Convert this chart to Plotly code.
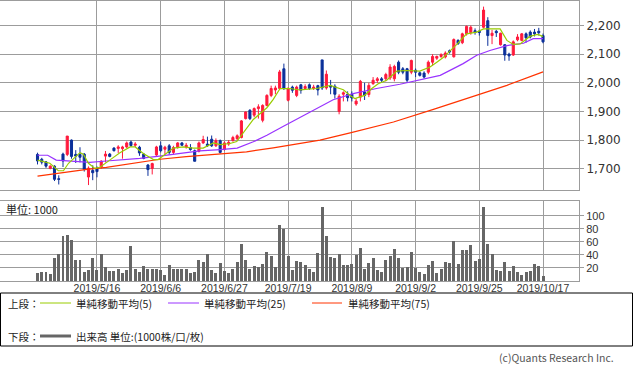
import plotly.graph_objects as go

W, H = 633, 372

# ---------------- data ----------------
idx = list(range(120))
opens = [1750,1733,1724,1701,1709,1665,1751,1750,1800,1750,
         1750,1751,1671,1694,1702,1706,1744,1751,1772,1771,
         1770,1776,1793,1782,1775,1751,1713,1701,1748,1780,
         1768,1780,1757,1774,1790,1776,1774,1763,1761,1790,
         1786,1803,1780,1798,1767,1786,1798,1805,1809,1875,
         1904,1887,1910,1869,1921,1956,1975,1980,2049,1939,
         1985,1956,1993,1980,1993,1980,1990,2080,1982,1990,
         1988,1900,1960,1960,1960,1926,1950,1968,1959,1997,
         2008,2014,2014,2017,2014,2072,2049,2049,2037,2044,
         2035,2034,2037,2072,2086,2092,2090,2112,2091,2148,
         2140,2171,2175,2182,2180,2194,2217,2165,2180,2133,
         2133,2100,2097,2150,2148,2171,2177,2177,2180,2165]
highs = [1756,1738,1727,1712,1712,1677,1756,1814,1802,1765,
         1775,1755,1708,1712,1708,1730,1762,1755,1775,1782,
         1780,1795,1798,1793,1780,1755,1716,1721,1780,1795,
         1780,1786,1780,1793,1793,1790,1786,1767,1795,1815,
         1812,1816,1806,1802,1795,1800,1815,1820,1870,1900,
         1908,1914,1925,1925,1960,1990,1990,2045,2067,1985,
         1990,1990,1996,1995,1998,1993,1993,2080,2043,2010,
         1995,1960,1970,1970,1970,1945,2010,2000,2000,2020,
         2020,2020,2035,2065,2063,2078,2055,2052,2081,2050,
         2040,2040,2078,2100,2095,2103,2110,2116,2155,2152,
         2175,2200,2200,2190,2185,2266,2229,2185,2185,2175,
         2135,2105,2148,2170,2174,2176,2183,2188,2192,2172]
lows = [1715,1715,1703,1698,1657,1645,1706,1744,1735,1720,
        1722,1690,1643,1660,1670,1700,1722,1740,1760,1755,
        1735,1772,1776,1776,1745,1733,1675,1680,1745,1757,
        1750,1749,1750,1770,1780,1770,1763,1726,1757,1787,
        1776,1776,1776,1753,1763,1780,1795,1800,1806,1872,
        1870,1880,1875,1862,1918,1950,1960,1975,1975,1935,
        1965,1950,1962,1975,1975,1975,1956,1975,1976,1960,
        1945,1890,1935,1935,1935,1920,1935,1940,1950,1993,
        2000,2003,2005,2010,2005,2030,2030,2000,2030,2020,
        2022,2015,2030,2060,2080,2087,2085,2102,2088,2132,
        2135,2165,2168,2168,2165,2190,2129,2135,2160,2130,
        2077,2077,2094,2145,2145,2140,2155,2162,2165,2138]
closes = [1727,1723,1709,1709,1663,1663,1727,1814,1743,1744,
          1740,1698,1702,1686,1690,1726,1751,1743,1763,1776,
          1776,1790,1781,1786,1755,1736,1697,1718,1776,1763,
          1775,1757,1774,1790,1782,1782,1767,1726,1790,1802,
          1780,1780,1798,1757,1790,1792,1809,1815,1867,1898,
          1875,1910,1916,1921,1956,1980,1982,2038,1980,1980,
          1974,1985,1974,1987,1980,1985,1975,1982,2030,1985,
          1960,1953,1965,1948,1947,1936,2005,1956,1991,2009,
          2014,2009,2029,2055,2057,2037,2037,2009,2078,2037,
          2026,2020,2072,2092,2092,2098,2104,2108,2151,2137,
          2171,2197,2194,2176,2176,2254,2165,2173,2175,2173,
          2097,2094,2143,2160,2171,2157,2160,2171,2175,2143]
volume = [13,14,14,11,35,41,69,71,63,32,
          32,14,17,36,17,41,22,16,16,19,
          13,17,54,19,14,23,19,19,19,17,
          9,24,19,19,19,19,13,14,32,29,
          41,17,13,28,16,13,19,29,57,32,
          19,23,22,26,45,38,22,86,80,38,
          17,31,29,25,19,14,43,114,69,37,
          35,42,25,25,26,40,51,18,28,35,
          17,14,32,38,49,35,20,22,45,20,
          14,11,25,31,12,18,29,28,62,26,
          48,48,55,31,34,114,57,42,17,15,
          29,15,23,14,9,14,15,26,23,8]

# moving averages (index, value)
ma5_x = [0,2.9,4.9,6.1,7.3,10,10.8,12,13.5,14.7,17,19.4,21.8,23,24.9,27.3,28.4,30.4,32,34.3,
         36.7,39,41.4,43,45.3,46.9,48.4,50.8,54,55.5,57.1,59.4,61.8,65.7,68.9,72,73.6,74.7,
         77,78.7,80.2,82.2,84.6,86.9,90,92.4,94,95.5,98.7,101,103.4,105,108.9,110.5,112,
         113.6,115.9,117.7,119]
ma5_y = [1730,1719,1693,1693,1719,1756,1751,1719,1701,1705,1730,1756,1776,1776,1753,1732,1732,1753,1772,1776,
         1772,1772,1790,1784,1788,1795,1825,1872,1913,1942,1980,1980,1975,1980,1991,1976,1956,1945,
         1956,1980,1997,2009,2041,2043,2041,2055,2072,2088,2134,2171,2177,2188,2188,2148,2134,
         2136,2162,2169,2162]
ma25_x = [0,2.4,4.4,7,12.3,16.2,21,24.1,28.7,33.5,38.2,43,47,50.8,54,57.9,61.8,64.9,69.6,74.3,
          79.8,85.3,89.3,94.8,100.2,103.4,106.5,110.5,114.4,116.7,119]
ma25_y = [1747,1747,1730,1727,1722,1727,1732,1736,1744,1753,1762,1767,1772,1794,1817,1848,1879,1904,1941,1962,
          1980,1995,2009,2026,2067,2096,2113,2130,2138,2154,2154]
ma75_x = [0,5.5,11.6,16.2,22.6,28.8,35,42.2,49.2,55.5,61.8,66.5,73.6,83.8,93.2,104.2,110.5,119]
ma75_y = [1674,1686,1698,1705,1719,1733,1742,1751,1759,1773,1788,1800,1825,1863,1907,1962,1991,2038]

date_idx = [14, 29, 44, 59, 74, 89, 104, 119]
date_txt = ["2019/5/16", "2019/6/6", "2019/6/27", "2019/7/19",
            "2019/8/9", "2019/9/2", "2019/9/25", "2019/10/17"]
price_ticks = [1700, 1800, 1900, 2000, 2100, 2200]
vol_ticks = [20, 40, 60, 80, 100]

# ---------------- styles ----------------
UP = "#ff1a3c"
DOWN = "#0a2f9a"
C5 = "#99cc00"
C25 = "#9933ff"
C75 = "#ff3300"
GRID = "#9c9c9c"
JP = "Noto Sans CJK JP"

def py(p):
    return 1 - p / H

def px(p):
    return p / W

fig = go.Figure()
fig.add_trace(go.Candlestick(
    x=idx, open=opens, high=highs, low=lows, close=closes,
    increasing=dict(line=dict(color=UP, width=1), fillcolor=UP),
    decreasing=dict(line=dict(color=DOWN, width=1), fillcolor=DOWN),
    whiskerwidth=0, xaxis="x", yaxis="y", hoverinfo="skip"))
fig.add_trace(go.Scatter(x=ma75_x, y=ma75_y, mode="lines", line=dict(color=C75, width=1.2), xaxis="x", yaxis="y"))
fig.add_trace(go.Scatter(x=ma25_x, y=ma25_y, mode="lines", line=dict(color=C25, width=1.2), xaxis="x", yaxis="y"))
fig.add_trace(go.Scatter(x=ma5_x, y=ma5_y, mode="lines", line=dict(color=C5, width=1.2), xaxis="x", yaxis="y"))
fig.add_trace(go.Bar(x=idx, y=volume, width=0.7, marker=dict(color="#666666", line=dict(width=0)),
                     xaxis="x2", yaxis="y2"))

xr = [-8.83, 127.47]
xdom = [0, 579 / W]
fig.update_layout(
    width=W, height=H, margin=dict(l=0, r=0, t=0, b=0),
    paper_bgcolor="white", plot_bgcolor="white", showlegend=False,
    xaxis=dict(domain=xdom, range=xr, tickvals=date_idx, showticklabels=False,
               showgrid=True, gridcolor=GRID, gridwidth=1, zeroline=False,
               showline=True, mirror=True, linecolor=GRID, linewidth=1,
               rangeslider=dict(visible=False), anchor="y"),
    yaxis=dict(domain=[py(190), py(0.5)], range=[1625.7, 2287.4], side="right",
               tickvals=price_ticks, tickformat=",d", ticks="outside", ticklen=4,
               tickcolor=GRID, showgrid=True, gridcolor=GRID, gridwidth=1, zeroline=False,
               showline=True, mirror=True, linecolor=GRID, linewidth=1,
               tickfont=dict(family="DejaVu Sans", size=12, color="#333333"), anchor="x"),
    xaxis2=dict(domain=xdom, range=xr, tickvals=date_idx, ticktext=date_txt,
                showgrid=True, gridcolor=GRID, gridwidth=1, zeroline=False,
                showline=True, mirror=True, linecolor=GRID, linewidth=1, ticks="",
                ticklabelstandoff=-3,
                tickfont=dict(family="Liberation Sans", size=10.5, color="#333333"), anchor="y2"),
    yaxis2=dict(domain=[py(281), py(201)], range=[0, 123], side="right",
                tickvals=vol_ticks, ticks="outside", ticklen=4, tickcolor=GRID,
                showgrid=True, gridcolor=GRID, gridwidth=1, zeroline=False,
                showline=True, mirror=True, linecolor=GRID, linewidth=1,
                tickfont=dict(family="Liberation Sans", size=11, color="#333333"), anchor="x2"),
    bargap=0,
)

shapes = [
    dict(type="rect", xref="paper", yref="paper", x0=px(0.5), x1=px(632.5), y0=py(346), y1=py(293),
         line=dict(color="#000000", width=1)),
    dict(type="line", xref="paper", yref="paper", x0=px(40), x1=px(71), y0=py(303), y1=py(303),
         line=dict(color=C5, width=1)),
    dict(type="line", xref="paper", yref="paper", x0=px(168), x1=px(199), y0=py(303), y1=py(303),
         line=dict(color=C25, width=1)),
    dict(type="line", xref="paper", yref="paper", x0=px(312), x1=px(342), y0=py(303), y1=py(303),
         line=dict(color=C75, width=1)),
    dict(type="line", xref="paper", yref="paper", x0=px(40), x1=px(71), y0=py(336), y1=py(336),
         line=dict(color="#666666", width=3)),
]
fig.update_layout(shapes=shapes)

def ann(x, y, text, size=10.5, color="#222222", anchor="left", family=JP):
    fig.add_annotation(xref="paper", yref="paper", x=px(x), y=py(y), text=text, showarrow=False,
                       xanchor=anchor, yanchor="middle", borderpad=0,
                       font=dict(family=family, size=size, color=color))

ann(7, 303, "上段：")
ann(75, 303, "単純移動平均(5)")
ann(203, 303, "単純移動平均(25)")
ann(347, 303, "単純移動平均(75)")
ann(7, 336, "下段：")
ann(75, 336, "出来高 単位:(1000株/口/枚)")
ann(5, 209, "単位: 1000", size=11)
ann(615, 357, "(c)Quants Research Inc.", size=10.5, color="#555555", anchor="right")

fig.write_html("out.html", config={"displayModeBar": False},
               post_script="document.body.style.margin='0px';")
